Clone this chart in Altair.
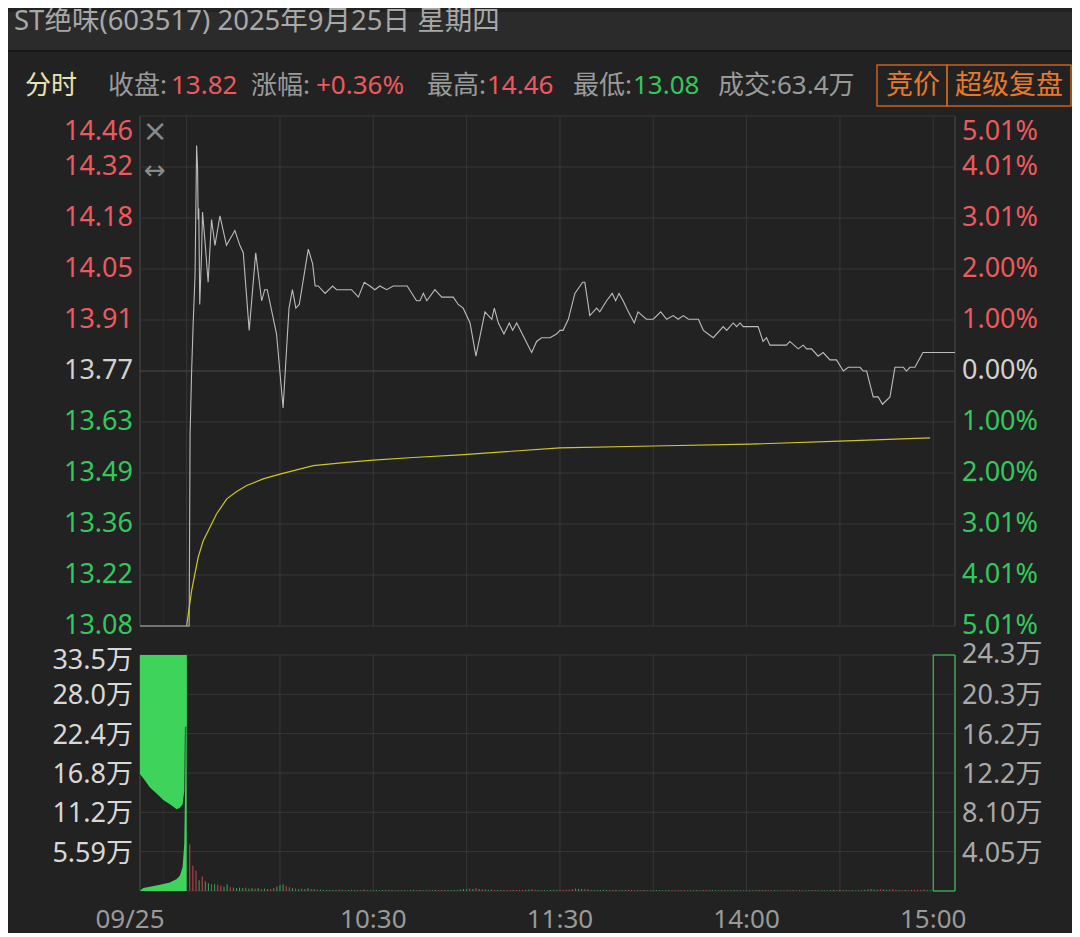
import altair as alt
import pandas as pd

# ---------------- data ----------------
# time axis: minutes after 09:30 (continuous session, lunch break removed);
# the call auction 09:15-09:25 occupies -15..0, after-hours 240..247
price_t = [-15, 0, 0.8, 1.1, 1.6, 2.1, 2.7, 3.2, 3.5, 3.7, 3.9, 4.2, 4.8, 5.1, 5.9, 6.9, 8.0, 9.1, 10.7, 12.8,
           15.5, 17.1, 18.2, 20.1, 22.2, 24.1, 25.1, 25.9, 28.9, 31.0, 32.9, 34.0, 35.1, 36.2, 39.1, 40.5, 41.3,
           42.3, 44.5, 46.9, 48.2, 53.0, 55.2, 57.1, 58.9, 60.5, 62.1, 64.3, 66.4, 70.9, 73.9, 75.0, 76.1, 77.2,
           79.8, 82.0, 85.7, 87.3, 88.9, 91.1, 93.0, 95.9, 98.1, 98.9, 100.2, 102.0, 103.7, 104.8, 106.1, 110.9,
           112.5, 114.1, 116.8, 118.9, 120.0, 121.0, 122.7, 124.8, 127.3, 128.0, 129.6, 131.8, 132.8, 135.0,
           136.8, 137.9, 139.0, 140.3, 142.0, 143.9, 145.1, 147.8, 150.0, 152.4, 154.3, 156.4, 158.0, 159.7,
           161.3, 164.5, 166.1, 169.3, 172.5, 173.6, 175.7, 176.8, 177.9, 178.9, 183.7, 185.3, 186.4, 187.5,
           192.8, 193.9, 196.6, 198.2, 199.3, 200.9, 203.0, 204.6, 206.8, 208.9, 211.1, 212.7, 216.5, 217.5,
           218.6, 220.7, 222.3, 223.7, 226.1, 227.7, 230.4, 231.4, 232.5, 234.1, 236.7, 247]
price_v = [13.08, 13.08, 13.08, 13.60, 13.77, 13.90, 14.03, 14.38, 14.32, 14.18, 14.21, 13.95, 14.09, 14.20,
           14.12, 14.01, 14.18, 14.11, 14.19, 14.11, 14.15, 14.11, 14.09, 13.88, 14.09, 13.96, 13.99, 13.99,
           13.87, 13.67, 13.94, 13.99, 13.94, 13.95, 14.10, 14.06, 14.00, 14.00, 13.98, 14.00, 13.99, 13.99,
           13.97, 14.01, 14.00, 13.99, 14.00, 13.99, 14.00, 14.00, 13.96, 13.96, 13.98, 13.96, 13.99, 13.97,
           13.97, 13.95, 13.94, 13.90, 13.81, 13.93, 13.91, 13.94, 13.90, 13.87, 13.90, 13.88, 13.90, 13.82,
           13.85, 13.86, 13.86, 13.87, 13.88, 13.88, 13.91, 13.98, 14.01, 14.01, 13.92, 13.94, 13.93, 13.96,
           13.98, 13.96, 13.98, 13.96, 13.93, 13.90, 13.93, 13.91, 13.91, 13.93, 13.91, 13.92, 13.91, 13.92,
           13.91, 13.91, 13.88, 13.86, 13.89, 13.88, 13.90, 13.89, 13.90, 13.89, 13.89, 13.85, 13.86, 13.84,
           13.84, 13.85, 13.83, 13.84, 13.83, 13.83, 13.81, 13.82, 13.80, 13.80, 13.77, 13.78, 13.78, 13.77,
           13.77, 13.70, 13.70, 13.68, 13.70, 13.78, 13.78, 13.77, 13.78, 13.78, 13.82, 13.82]

avg_t = [0, 1.6, 3.7, 5.3, 7.5, 9.6, 12.9, 16.1, 19.3, 24.6, 30.0, 40.7, 51.4, 60.0, 72.8, 87.9, 120.0,
         150.0, 181.0, 210.0, 239.0]
avg_v = [13.081, 13.176, 13.266, 13.31, 13.347, 13.383, 13.424, 13.444, 13.46, 13.478, 13.491, 13.514,
         13.523, 13.529, 13.536, 13.543, 13.562, 13.567, 13.572, 13.58, 13.589]

# call-auction volume (left scale, 万): unmatched block hanging from the top, matched volume from the bottom
auc_up_t = [-15, -13.4, -11.8, -9.6, -7.5, -5.4, -3.2, -2.15, -1.3, -0.77, -0.55, 0]
auc_up_v = [16.6, 15.7, 14.7, 13.8, 12.9, 12.3, 11.6, 11.8, 12.3, 14.2, 23.3, 23.3]
auc_lo_t = [-15, -13.95, -11.8, -8.6, -5.4, -3.2, -2.15, -1.3, -0.77, -0.45, -0.16, 0]
auc_lo_v = [0.05, 0.43, 0.6, 0.9, 1.2, 1.7, 2.2, 3.4, 6.7, 16.2, 33.5, 33.5]

# per-minute volume of the continuous session (right scale, 万), minutes 1..239
vol = [4.8, 2.6, 2.1, 1.1, 1.5, 1.0, 0.8, 0.7, 0.7, 0.65, 0.55, 0.45, 0.7, 0.4, 0.35, 0.3, 0.35, 0.3, 0.35, 0.25,
       0.3, 0.25, 0.3, 0.2, 0.25, 0.2, 0.2, 0.3, 0.45, 0.6, 0.7, 0.5, 0.4, 0.3, 0.25, 0.2, 0.25, 0.2, 0.3, 0.2,
       0.2, 0.15, 0.15, 0.12, 0.1, 0.12, 0.1, 0.1, 0.15, 0.1, 0.08, 0.1, 0.12, 0.1, 0.08, 0.1, 0.15, 0.1, 0.08, 0.1,
       0.1, 0.08, 0.1, 0.12, 0.08, 0.1, 0.06, 0.08, 0.1, 0.08, 0.06, 0.1, 0.12, 0.08, 0.1, 0.08, 0.06, 0.1, 0.08, 0.1,
       0.08, 0.1, 0.12, 0.1, 0.08, 0.1, 0.12, 0.15, 0.2, 0.18, 0.25, 0.2, 0.3, 0.22, 0.18, 0.15, 0.12, 0.15, 0.1, 0.12,
       0.1, 0.12, 0.08, 0.1, 0.12, 0.1, 0.08, 0.1, 0.12, 0.15, 0.18, 0.12, 0.1, 0.08, 0.1, 0.08, 0.1, 0.12, 0.1, 0.15,
       0.1, 0.12, 0.15, 0.2, 0.25, 0.22, 0.2, 0.18, 0.15, 0.12, 0.1, 0.12, 0.1, 0.12, 0.1, 0.08, 0.1, 0.12, 0.08, 0.1,
       0.1, 0.12, 0.1, 0.08, 0.1, 0.08, 0.1, 0.08, 0.06, 0.08, 0.1, 0.08, 0.06, 0.08, 0.1, 0.08, 0.06, 0.08, 0.06, 0.08,
       0.06, 0.08, 0.1, 0.08, 0.06, 0.1, 0.12, 0.08, 0.1, 0.08, 0.06, 0.1, 0.08, 0.06, 0.08, 0.1, 0.08, 0.06, 0.08, 0.06,
       0.08, 0.06, 0.08, 0.1, 0.12, 0.1, 0.08, 0.06, 0.08, 0.06, 0.05, 0.06, 0.08, 0.06, 0.08, 0.06, 0.08, 0.06, 0.05, 0.06,
       0.08, 0.1, 0.08, 0.06, 0.08, 0.06, 0.08, 0.1, 0.08, 0.12, 0.1, 0.08, 0.06, 0.08, 0.06, 0.08, 0.1, 0.12, 0.18, 0.2,
       0.15, 0.12, 0.18, 0.15, 0.12, 0.15, 0.2, 0.12, 0.1, 0.08, 0.1, 0.08, 0.1, 0.12, 0.1, 0.12, 0.15, 0.1, 0.08]
vol_dir = ("rrrgrggrgrrggrrgggrg" "grgrggrrgggrrgrgrggr" "grgrgrggrgrgrggrgrgr" "grgrggrgrgrggrgrgrgg"
           "rgrgggrgggrgrgrggrrg" "grgrgrgrggrrgrgrgrgr" "rrrrrggrgrgrgrggrgrg" "grgrgrgrgggrgrgrgrgr"
           "ggrgrgrggrgrgrggrgrg" "ggrgrgrggrgrgrgrgrgg" "grgrgrggrgrgrgrgrgrg" "ggrggrrrgrgrgrrrrgg")
close_vol = 24.3

price_ticks = [13.08, 13.218, 13.356, 13.494, 13.632, 13.77, 13.908, 14.046, 14.184, 14.322, 14.46]
price_labels = ["13.08", "13.22", "13.36", "13.49", "13.63", "13.77", "13.91", "14.05", "14.18", "14.32", "14.46"]
pct_labels = ["5.01%", "4.01%", "3.01%", "2.00%", "1.00%", "0.00%", "1.00%", "2.00%", "3.01%", "4.01%", "5.01%"]
lvol_ticks = [0, 5.583, 11.167, 16.75, 22.333, 27.917, 33.5]
lvol_labels = ["", "5.59万", "11.2万", "16.8万", "22.4万", "28.0万", "33.5万"]
rvol_ticks = [0, 4.05, 8.1, 12.15, 16.2, 20.25, 24.3]
rvol_labels = ["", "4.05万", "8.10万", "12.2万", "16.2万", "20.3万", "24.3万"]
grid_t = [-7.5, 0, 30, 60, 90, 120, 150, 180, 210, 240]
time_ticks = [-15, 60, 120, 180, 240]
time_labels = ["09/25", "10:30", "11:30", "14:00", "15:00"]

title = "ST绝味(603517) 2025年9月25日 星期四"
header_items = ["分时", "收盘:", "13.82", "涨幅:", "+0.36%", "最高:", "14.46", "最低:", "13.08", "成交:63.4万"]
header_kind = ["tab", "key", "up", "key", "up", "key", "up", "key", "down", "key"]
buttons = ["竞价", "超级复盘"]

# ---------------- style / layout ----------------
FONT = "Noto Sans, Noto Sans CJK SC"
BG = "#222222"
BAR_BG = "#2b2b2b"
GRID = "#373737"
GRID_FAINT = "#2c2c2c"
MID = "#4a4a4a"
BORDER = "#4c4c4c"
RED = "#ea5a5e"
GREEN = "#33c75d"
GRAY = "#9a9a9a"
WHITE = "#d2d2d2"
VGREEN = "#3ed45c"
ORANGE = "#e8782c"
KIND_COLOR = {"tab": "#e8e2b2", "key": GRAY, "up": RED, "down": GREEN}

W, PH, VT, VB = 815, 510, 539, 775        # plot width, price panel height, volume panel top/bottom
header_x = [-115, -32, 31, 111, 176, 287, 347, 433, 493, 578]
button_x = [746, 815]
LAB = 27
HDR = 26

X = alt.Scale(domain=[-15, 247], nice=False, zero=False)
PY = alt.Scale(domain=[13.08, 14.46], range=[PH, 0], nice=False, zero=False)
LY = alt.Scale(domain=[0, 33.5], range=[VB, VT], nice=False, zero=False)
RY = alt.Scale(domain=[0, 24.3], range=[VB, VT], nice=False, zero=False)

one = pd.DataFrame({"k": [0]})


def xq():
    return alt.X("t:Q", scale=X, axis=None)


def box(x1, x2, y1, y2, **kw):
    return alt.Chart(one).mark_rect(**kw).encode(
        x=alt.value(x1), x2=alt.value(x2), y=alt.value(y1), y2=alt.value(y2))


layers = []
# backgrounds
layers.append(box(-132, 932, -65, 814, color=BG))
layers.append(box(-132, 932, -104, -65, color=BAR_BG))
layers.append(box(-132, 932, -66, -64, color="#181818"))

# vertical grid
vg = pd.DataFrame({"t": grid_t, "c": [GRID_FAINT] + [GRID] * (len(grid_t) - 1)})
layers.append(alt.Chart(vg).mark_rule(strokeWidth=1).encode(
    x=xq(), y=alt.value(0), y2=alt.value(PH), color=alt.Color("c:N", scale=None)))
layers.append(alt.Chart(vg).mark_rule(strokeWidth=1).encode(
    x=xq(), y=alt.value(VT), y2=alt.value(VB), color=alt.Color("c:N", scale=None)))
bd = pd.DataFrame({"t": [-15, 247]})
layers.append(alt.Chart(bd).mark_rule(strokeWidth=1, color=BORDER).encode(
    x=xq(), y=alt.value(0), y2=alt.value(PH)))
layers.append(alt.Chart(bd).mark_rule(strokeWidth=1, color=BORDER).encode(
    x=xq(), y=alt.value(VT), y2=alt.value(VB)))

# horizontal grid
hg = pd.DataFrame({"v": price_ticks, "c": [GRID] * 5 + [MID] + [GRID] * 5})
layers.append(alt.Chart(hg).mark_rule(strokeWidth=1).encode(
    y=alt.Y("v:Q", scale=PY, axis=None), x=alt.value(0), x2=alt.value(W),
    color=alt.Color("c:N", scale=None)))
vg2 = pd.DataFrame({"v": lvol_ticks})
layers.append(alt.Chart(vg2).mark_rule(strokeWidth=1, color=GRID).encode(
    y=alt.Y("v:Q", scale=LY, axis=None), x=alt.value(0), x2=alt.value(W)))

# call auction volume areas
up_df = pd.DataFrame({"t": auc_up_t, "v": auc_up_v, "top": [33.5] * len(auc_up_t)})
lo_df = pd.DataFrame({"t": auc_lo_t, "v": auc_lo_v, "z": [0] * len(auc_lo_t)})
layers.append(alt.Chart(up_df).mark_area(color=VGREEN, opacity=1).encode(
    x=xq(), y=alt.Y("v:Q", scale=LY, axis=None), y2="top:Q"))
layers.append(alt.Chart(lo_df).mark_area(color=VGREEN, opacity=1).encode(
    x=xq(), y=alt.Y("v:Q", scale=LY, axis=None), y2="z:Q"))

# continuous-session volume bars
dirs = vol_dir[:len(vol)]
bar_df = pd.DataFrame({"t": list(range(1, len(vol) + 1)), "v": vol, "z": [0] * len(vol),
                       "c": ["#c9474d" if d == "r" else "#3aa657" for d in dirs]})
layers.append(alt.Chart(bar_df).mark_rule(strokeWidth=1).encode(
    x=xq(), y=alt.Y("v:Q", scale=RY, axis=None), y2="z:Q", color=alt.Color("c:N", scale=None)))
# closing auction block
cl_df = pd.DataFrame({"t": [240], "t2": [247], "v": [close_vol], "z": [0]})
layers.append(alt.Chart(cl_df).mark_rect(fillOpacity=0, stroke=VGREEN, strokeWidth=1).encode(
    x=xq(), x2="t2:Q", y=alt.Y("v:Q", scale=RY, axis=None), y2="z:Q"))

# price and average lines
p_df = pd.DataFrame({"t": price_t, "p": price_v})
a_df = pd.DataFrame({"t": avg_t, "p": avg_v})
layers.append(alt.Chart(p_df).mark_line(color="#bcbcbc", strokeWidth=1.1).encode(
    x=xq(), y=alt.Y("p:Q", scale=PY, axis=None)))
layers.append(alt.Chart(a_df).mark_line(color="#cfc52c", strokeWidth=1.2).encode(
    x=xq(), y=alt.Y("p:Q", scale=PY, axis=None)))

# axis labels (price / percent)
lab_col = [GREEN] * 5 + [WHITE] + [RED] * 5
pl = pd.DataFrame({"v": price_ticks, "a": price_labels, "b": pct_labels, "c": lab_col})
txt = dict(font=FONT, fontSize=LAB, baseline="middle")
layers.append(alt.Chart(pl.iloc[:-1]).mark_text(align="right", **txt).encode(
    y=alt.Y("v:Q", scale=PY, axis=None), x=alt.value(-7), text="a:N", color=alt.Color("c:N", scale=None)))
layers.append(alt.Chart(pl.iloc[:-1]).mark_text(align="left", **txt).encode(
    y=alt.Y("v:Q", scale=PY, axis=None), x=alt.value(822), text="b:N", color=alt.Color("c:N", scale=None)))
layers.append(alt.Chart(pl.iloc[-1:]).mark_text(align="right", dy=16, **txt).encode(
    y=alt.Y("v:Q", scale=PY, axis=None), x=alt.value(-7), text="a:N", color=alt.Color("c:N", scale=None)))
layers.append(alt.Chart(pl.iloc[-1:]).mark_text(align="left", dy=16, **txt).encode(
    y=alt.Y("v:Q", scale=PY, axis=None), x=alt.value(822), text="b:N", color=alt.Color("c:N", scale=None)))

# volume labels
ll = pd.DataFrame({"v": lvol_ticks, "a": lvol_labels})
rl = pd.DataFrame({"v": rvol_ticks, "a": rvol_labels})
layers.append(alt.Chart(ll.iloc[1:-1]).mark_text(align="right", dy=2, color="#d8d8d8", **txt).encode(
    y=alt.Y("v:Q", scale=LY, axis=None), x=alt.value(-7), text="a:N"))
layers.append(alt.Chart(ll.iloc[-1:]).mark_text(align="right", dy=6, color="#d8d8d8", **txt).encode(
    y=alt.Y("v:Q", scale=LY, axis=None), x=alt.value(-7), text="a:N"))
layers.append(alt.Chart(rl.iloc[1:-1]).mark_text(align="left", dy=2, color="#a9a9a9", **txt).encode(
    y=alt.Y("v:Q", scale=RY, axis=None), x=alt.value(822), text="a:N"))
layers.append(alt.Chart(rl.iloc[-1:]).mark_text(align="left", dy=0, color="#a9a9a9", **txt).encode(
    y=alt.Y("v:Q", scale=RY, axis=None), x=alt.value(822), text="a:N"))

# time labels
tl = pd.DataFrame({"t": time_ticks, "a": time_labels})
tlab = dict(font=FONT, fontSize=26, baseline="middle", color=GRAY)
layers.append(alt.Chart(tl.iloc[:1]).mark_text(align="center", dx=-10, **tlab).encode(
    x=xq(), y=alt.value(804), text="a:N"))
layers.append(alt.Chart(tl.iloc[1:]).mark_text(align="center", **tlab).encode(
    x=xq(), y=alt.value(804), text="a:N"))

# icons in the price panel
layers.append(alt.Chart(one).mark_text(text="×", font="DejaVu Sans", fontSize=30, color="#8a8a8a",
                                       baseline="middle").encode(x=alt.value(15), y=alt.value(16)))
layers.append(alt.Chart(one).mark_text(text="↔", font="DejaVu Sans", fontSize=26, color="#8a8a8a",
                                       baseline="middle").encode(x=alt.value(15), y=alt.value(55)))

# header
layers.append(alt.Chart(one).mark_text(text=title, font=FONT, fontSize=27.5, color="#a8a8a8",
                                       align="left", baseline="middle").encode(
    x=alt.value(-126), y=alt.value(-94)))
hd = pd.DataFrame({"a": header_items, "x": header_x, "c": [KIND_COLOR[k] for k in header_kind]})
for i in range(len(hd)):
    layers.append(alt.Chart(hd.iloc[i:i + 1]).mark_text(font=FONT, fontSize=HDR, align="left",
                                                         baseline="middle").encode(
        x=alt.value(int(hd.x[i])), y=alt.value(-30), text="a:N", color=alt.Color("c:N", scale=None)))
layers.append(box(737, 807, -51, -10, fillOpacity=0, stroke="#c8621f", strokeWidth=1.5))
layers.append(box(807, 931, -51, -10, fillOpacity=0, stroke="#c8621f", strokeWidth=1.5))
for b, bx in zip(buttons, button_x):
    layers.append(alt.Chart(one).mark_text(text=b, font=FONT, fontSize=27, color=ORANGE, align="left",
                                           baseline="middle").encode(x=alt.value(bx), y=alt.value(-30)))

chart = alt.layer(*layers).resolve_scale(y="independent").properties(
    width=W, height=VB, padding=0, background=BG
).configure_view(stroke=None)

chart.save("out.html", embed_options={"renderer": "svg", "actions": False})
